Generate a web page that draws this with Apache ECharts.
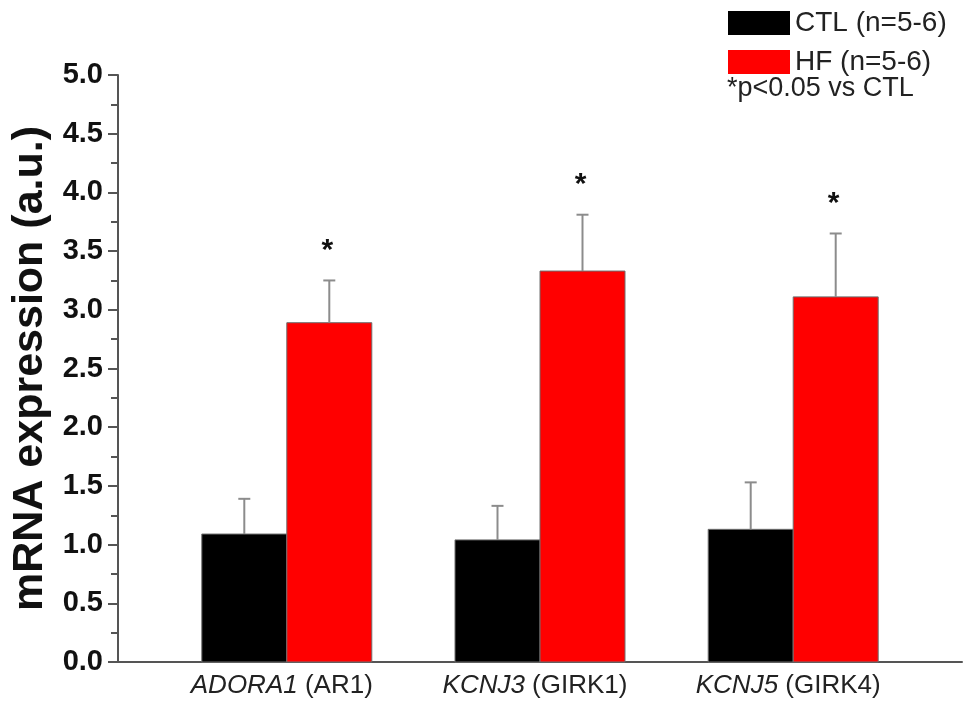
<!DOCTYPE html>
<html>
<head>
<meta charset="utf-8">
<script src="https://cdn.jsdelivr.net/npm/echarts@6/dist/echarts.min.js"></script>
<style>
html,body{margin:0;padding:0;background:#fff;}
#chart{width:963px;height:707px;}
</style>
</head>
<body>
<div id="chart"></div>
<script>
// ---- data ----
const genes = ['ADORA1', 'KCNJ3', 'KCNJ5'];
const proteins = ['(AR1)', '(GIRK1)', '(GIRK4)'];
const genePos = [1, 2, 3];
const ctlMean = [1.09, 1.04, 1.13];
const ctlErr = [0.30, 0.29, 0.40];
const hfMean = [2.89, 3.33, 3.11];
const hfErr = [0.36, 0.48, 0.54];
const significant = [true, true, true];
const yTicks = [0, 0.5, 1, 1.5, 2, 2.5, 3, 3.5, 4, 4.5, 5];

const BAR_W = 85;
const FONT = '"Liberation Sans", Arial, sans-serif';

function makeRender(side, color) {
  return function (params, api) {
    const x = api.value(0), y = api.value(1), e = api.value(2), sig = api.value(3);
    const base = api.coord([x, 0]);
    const top = api.coord([x, y]);
    const cap = api.coord([x, y + e]);
    const left = side === 'ctl' ? base[0] - BAR_W : base[0];
    const cx = left + BAR_W / 2;
    const children = [
      { type: 'rect', shape: { x: left, y: top[1], width: BAR_W, height: base[1] - top[1] },
        style: { fill: color, stroke: '#6e6e6e', lineWidth: 1 } },
      { type: 'line', shape: { x1: cx, y1: top[1], x2: cx, y2: cap[1] },
        style: { stroke: '#8c8c8c', lineWidth: 2 } },
      { type: 'line', shape: { x1: cx - 6, y1: cap[1], x2: cx + 6, y2: cap[1] },
        style: { stroke: '#8c8c8c', lineWidth: 2 } }
    ];
    if (side === 'hf' && sig) {
      children.push({ type: 'text', style: { text: '*', x: cx - 2, y: cap[1] - 30,
        fill: '#111', font: 'bold 30px ' + FONT, align: 'center', verticalAlign: 'middle' } });
    }
    return { type: 'group', children: children };
  };
}

const ctlData = genePos.map((p, i) => [p, ctlMean[i], ctlErr[i], 0]);
const hfData = genePos.map((p, i) => [p, hfMean[i], hfErr[i], significant[i] ? 1 : 0]);

const chart = echarts.init(document.getElementById('chart'));
chart.setOption({
  animation: false,
  backgroundColor: '#fff',
  grid: { left: 118, right: 1, top: 75, bottom: 45, containLabel: false },
  legend: {
    orient: 'vertical', left: 723, top: 4, itemWidth: 62, itemHeight: 24, itemGap: 11,
    icon: 'rect',
    textStyle: { fontFamily: FONT, fontSize: 28, color: '#222' },
    data: ['CTL (n=5-6)', 'HF (n=5-6)']
  },
  graphic: [{
    type: 'text', left: 727, top: 75,
    style: { text: '*p<0.05 vs CTL', font: '27px ' + FONT, fill: '#222' }
  }],
  xAxis: {
    type: 'value', min: 1 / 3, max: 11 / 3,
    splitLine: { show: false },
    axisLine: { lineStyle: { color: '#555', width: 2 } },
    axisTick: { show: false },
    axisLabel: {
      customValues: genePos, margin: 11,
      formatter: function (v) {
        const i = genePos.indexOf(Math.round(v));
        return i < 0 ? '' : '{i|' + genes[i] + '}{n| ' + proteins[i] + '}';
      },
      rich: {
        i: { fontFamily: FONT, fontSize: 26, fontStyle: 'italic', color: '#222' },
        n: { fontFamily: FONT, fontSize: 26, color: '#222', padding: [0, 10, 0, 0] }
      }
    }
  },
  yAxis: {
    type: 'value', min: 0, max: 5, interval: 0.5,
    name: 'mRNA expression (a.u.)', nameLocation: 'middle', nameGap: 64,
    nameTextStyle: { fontFamily: FONT, fontSize: 43, fontWeight: 'bold', color: '#111' },
    splitLine: { show: false },
    axisLine: { show: true, lineStyle: { color: '#555', width: 2 } },
    axisTick: { show: true, inside: false, length: 10, lineStyle: { color: '#555', width: 2 } },
    minorTick: { show: true, splitNumber: 2, length: 7, lineStyle: { color: '#555', width: 2 } },
    axisLabel: {
      margin: 15, fontFamily: FONT, fontSize: 29, fontWeight: 'bold', color: '#111',
      formatter: v => yTicks.indexOf(v) >= 0 ? v.toFixed(1) : ''
    }
  },
  series: [
    { name: 'CTL (n=5-6)', type: 'custom', renderItem: makeRender('ctl', '#000000'),
      itemStyle: { color: '#000000' }, encode: { x: 0, y: [1, 2] }, data: ctlData, clip: false },
    { name: 'HF (n=5-6)', type: 'custom', renderItem: makeRender('hf', '#ff0000'),
      itemStyle: { color: '#ff0000' }, encode: { x: 0, y: [1, 2] }, data: hfData, clip: false }
  ]
});
</script>
</body>
</html>
